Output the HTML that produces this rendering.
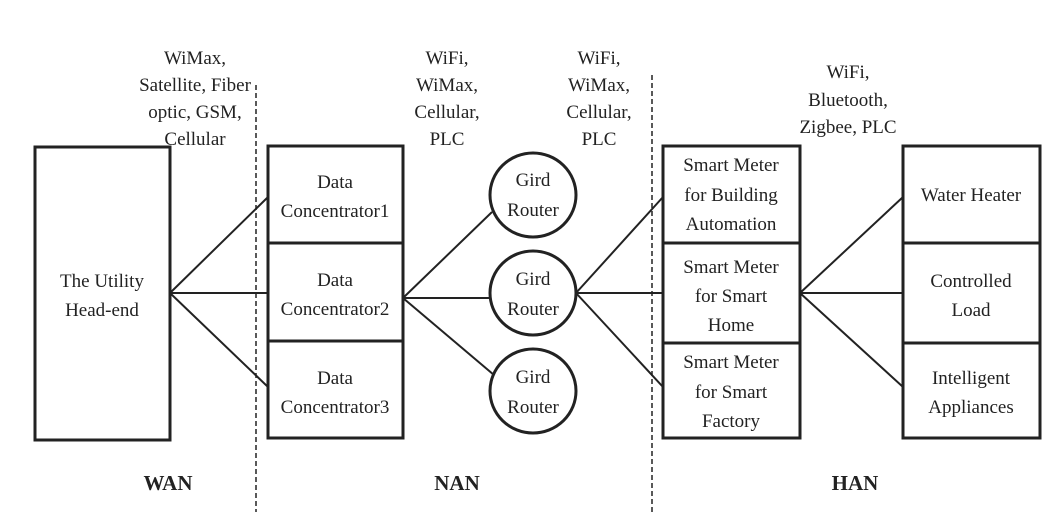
<!DOCTYPE html>
<html><head><meta charset="utf-8"><style>
html,body{margin:0;padding:0;background:#fff;}
svg{display:block}
text{font-family:"Liberation Serif",serif;font-size:19px;fill:#222;text-anchor:middle;}
.b{font-weight:bold;font-size:21px}
</style></head><body>
<svg width="1064" height="512" viewBox="0 0 1064 512" xmlns="http://www.w3.org/2000/svg">
<g stroke="#222" fill="none">
<line x1="256" y1="85" x2="256" y2="512" stroke-width="1.5" stroke-dasharray="5,3"/>
<line x1="652" y1="75" x2="652" y2="512" stroke-width="1.5" stroke-dasharray="5,3"/>
<g stroke-width="3">
<rect x="35" y="147" width="135" height="293"/>
<rect x="268" y="146" width="135" height="97"/>
<rect x="268" y="243" width="135" height="98"/>
<rect x="268" y="341" width="135" height="97"/>
<rect x="663" y="146" width="137" height="97"/>
<rect x="663" y="243" width="137" height="100"/>
<rect x="663" y="343" width="137" height="95"/>
<rect x="903" y="146" width="137" height="97"/>
<rect x="903" y="243" width="137" height="100"/>
<rect x="903" y="343" width="137" height="95"/>
<ellipse cx="533" cy="195" rx="43" ry="42"/>
<ellipse cx="533" cy="293" rx="43" ry="42"/>
<ellipse cx="533" cy="391" rx="43" ry="42"/>
</g>
<g stroke-width="2">
<line x1="170" y1="293" x2="268" y2="197"/>
<line x1="170" y1="293" x2="268" y2="293"/>
<line x1="170" y1="293" x2="268" y2="387"/>
<line x1="403" y1="298" x2="492" y2="212"/>
<line x1="403" y1="298" x2="490" y2="298"/>
<line x1="403" y1="298" x2="494" y2="375"/>
<line x1="576" y1="293" x2="663" y2="197"/>
<line x1="576" y1="293" x2="663" y2="293"/>
<line x1="576" y1="293" x2="663" y2="387"/>
<line x1="800" y1="293" x2="903" y2="197"/>
<line x1="800" y1="293" x2="903" y2="293"/>
<line x1="800" y1="293" x2="903" y2="387"/>
</g>
</g>
<text x="195" y="64">WiMax,</text>
<text x="195" y="91">Satellite, Fiber</text>
<text x="195" y="118">optic, GSM,</text>
<text x="195" y="145">Cellular</text>
<text x="447" y="64">WiFi,</text>
<text x="447" y="91">WiMax,</text>
<text x="447" y="118">Cellular,</text>
<text x="447" y="145">PLC</text>
<text x="599" y="64">WiFi,</text>
<text x="599" y="91">WiMax,</text>
<text x="599" y="118">Cellular,</text>
<text x="599" y="145">PLC</text>
<text x="848" y="78">WiFi,</text>
<text x="848" y="106">Bluetooth,</text>
<text x="848" y="133">Zigbee, PLC</text>
<text x="102" y="287">The Utility</text>
<text x="102" y="316">Head-end</text>
<text x="335" y="188">Data</text>
<text x="335" y="217">Concentrator1</text>
<text x="335" y="286">Data</text>
<text x="335" y="315">Concentrator2</text>
<text x="335" y="384">Data</text>
<text x="335" y="413">Concentrator3</text>
<text x="533" y="186">Gird</text>
<text x="533" y="216">Router</text>
<text x="533" y="285">Gird</text>
<text x="533" y="315">Router</text>
<text x="533" y="383">Gird</text>
<text x="533" y="413">Router</text>
<text x="731" y="171">Smart Meter</text>
<text x="731" y="201">for Building</text>
<text x="731" y="230">Automation</text>
<text x="731" y="273">Smart Meter</text>
<text x="731" y="302">for Smart</text>
<text x="731" y="331">Home</text>
<text x="731" y="368">Smart Meter</text>
<text x="731" y="398">for Smart</text>
<text x="731" y="427">Factory</text>
<text x="971" y="201">Water Heater</text>
<text x="971" y="287">Controlled</text>
<text x="971" y="316">Load</text>
<text x="971" y="384">Intelligent</text>
<text x="971" y="413">Appliances</text>
<text class="b" x="168" y="490">WAN</text>
<text class="b" x="457" y="490">NAN</text>
<text class="b" x="855" y="490">HAN</text>
</svg>
</body></html>
